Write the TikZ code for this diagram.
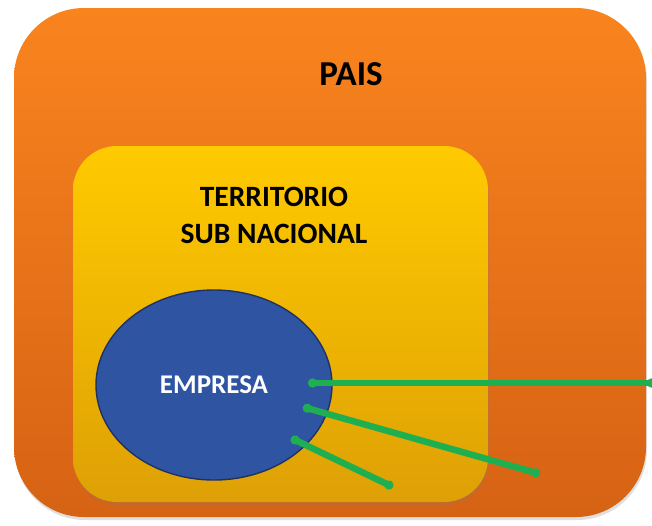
\documentclass[tikz,border=0pt]{standalone}
\usepackage{fontspec}
\setmainfont{Carlito}
\usetikzlibrary{arrows.meta, shadows, shapes.geometric}

\definecolor{paisTop}{RGB}{249,132,30}
\definecolor{paisBottom}{RGB}{214,98,20}
\definecolor{terrTop}{RGB}{255,202,0}
\definecolor{terrBottom}{RGB}{222,160,5}
\definecolor{empresaBlue}{RGB}{46,84,162}
\definecolor{empresaEdge}{RGB}{30,50,100}
\definecolor{lineGreen}{RGB}{30,176,80}

\tikzset{
  greenline/.style={draw=lineGreen, line width=6.5pt, line cap=round, {Circle[length=9pt]}-{Circle[length=9pt]}}
}

\begin{document}
\begin{tikzpicture}[x=1pt, y=-1pt]
\useasboundingbox (0,0) rectangle (652,525);

% country
\path[top color=paisTop, bottom color=paisBottom, rounded corners=70pt,
  drop shadow={shadow xshift=1pt, shadow yshift=-3pt, opacity=0.25}] (14,8) rectangle (646,517);
\node[font=\bfseries\fontsize{35}{35}\selectfont] (pais) at (351,74) {PAIS};

% sub-national territory
\path[top color=terrTop, bottom color=terrBottom, rounded corners=44pt,
  drop shadow={shadow xshift=1pt, shadow yshift=-3pt, opacity=0.25}] (73,146) rectangle (488,502);
\node[font=\bfseries\fontsize{29.5}{37}\selectfont, align=center] (territorio) at (274,215) {TERRITORIO\\SUB NACIONAL};

% firm
\node[ellipse, draw=empresaEdge, fill=empresaBlue, line width=1.4pt,
  minimum width=236pt, minimum height=190pt, inner sep=0pt,
  text=white, font=\bfseries\fontsize{27}{27}\selectfont] (empresa) at (214,385) {EMPRESA};

\coordinate (a1) at (308,383);
\coordinate (b1) at (656,383);
\coordinate (a2) at (303,407);
\coordinate (b2) at (540,474);
\coordinate (a3) at (291,438);
\coordinate (b3) at (393,487);

\draw[greenline] (a1) -- (b1);
\draw[greenline] (a2) -- (b2);
\draw[greenline] (a3) -- (b3);

\end{tikzpicture}
\end{document}
